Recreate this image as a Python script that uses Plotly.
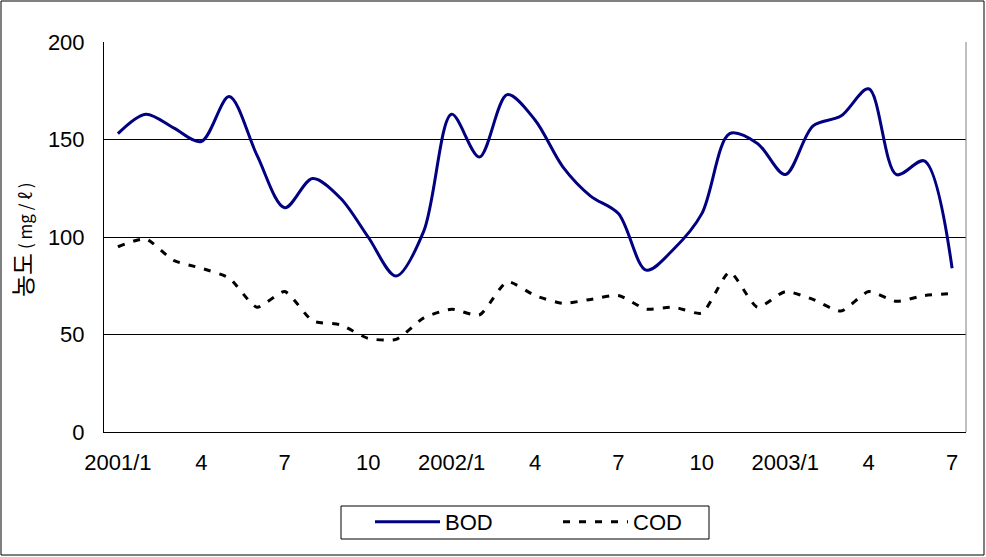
import plotly.graph_objects as go

months = ["2001/1", "2001/2", "2001/3", "2001/4", "2001/5", "2001/6", "2001/7", "2001/8",
          "2001/9", "2001/10", "2001/11", "2001/12",
          "2002/1", "2002/2", "2002/3", "2002/4", "2002/5", "2002/6", "2002/7", "2002/8",
          "2002/9", "2002/10", "2002/11", "2002/12",
          "2003/1", "2003/2", "2003/3", "2003/4", "2003/5", "2003/6", "2003/7"]

bod = [153, 163, 156, 149, 172, 142, 115, 130, 120, 100, 80, 103,
       163, 141, 173, 160, 136, 121, 112, 83, 94, 112, 153, 148,
       132, 157, 162, 176, 132, 139, 84]

cod = [95, 99, 88, 84, 79, 64, 72, 57, 55, 48, 47.5, 58.5,
       63, 60, 77, 70, 66, 68, 70, 63, 64, 61, 82, 64,
       72, 68, 62, 72, 67, 70, 71]

tick_vals = ["2001/1", "2001/4", "2001/7", "2001/10", "2002/1", "2002/4", "2002/7",
             "2002/10", "2003/1", "2003/4", "2003/7"]
tick_text = ["2001/1", "4", "7", "10", "2002/1", "4", "7", "10", "2003/1", "4", "7"]

W, H = 986, 557
L, R, T, B = 104, 20, 42, 125
pw, ph = W - L - R, H - T - B

def px(x):
    return (x - L) / pw

def py(y):
    return (H - B - y) / ph

fig = go.Figure()
fig.add_trace(go.Scatter(x=months, y=bod, name="BOD", mode="lines",
                         line=dict(color="#000080", width=3, shape="spline", smoothing=0.9)))
fig.add_trace(go.Scatter(x=months, y=cod, name="COD", mode="lines",
                         line=dict(color="#000000", width=3, shape="spline", smoothing=0.6,
                                   dash="7px,9px")))

font_main = "Liberation Sans, Arial, sans-serif"

fig.update_layout(
    width=W, height=H,
    margin=dict(l=L, r=R, t=T, b=B, autoexpand=False),
    paper_bgcolor="white", plot_bgcolor="white",
    showlegend=True,
    legend=dict(orientation="h", x=px(370), xanchor="left", y=py(501), yanchor="top",
                borderwidth=0, bgcolor="rgba(0,0,0,0)",
                font=dict(family=font_main, size=22, color="black"),
                itemwidth=65, entrywidth=108, tracegroupgap=0),
    xaxis=dict(type="category", range=[-0.5, 30.5], tickmode="array",
               tickvals=tick_vals, ticktext=tick_text, showgrid=False,
               showline=True, linecolor="black", linewidth=1, ticks="",
               ticklabelstandoff=11,
               tickfont=dict(family=font_main, size=22, color="black")),
    yaxis=dict(range=[0, 200], tickvals=[0, 50, 100, 150, 200], showgrid=True,
               gridcolor="black", gridwidth=1, showline=True, linecolor="black",
               linewidth=1, ticks="", ticklabelstandoff=14, zeroline=False,
               tickfont=dict(family=font_main, size=22, color="black")),
    annotations=[dict(
        text="농도<span style='font-size:17px'> ( mg / ℓ )</span>",
        x=px(21), y=py(240), xref="paper", yref="paper", showarrow=False,
        textangle=-90, xanchor="center", yanchor="middle",
        font=dict(family="Noto Sans CJK KR", size=24, color="black"))],
    shapes=[
        dict(type="rect", xref="paper", yref="paper", x0=px(1), x1=px(984),
             y0=py(555), y1=py(1), line=dict(color="black", width=1)),
        dict(type="line", xref="paper", yref="paper", x0=1, x1=1, y0=0, y1=1,
             line=dict(color="#808080", width=1)),
        dict(type="rect", xref="paper", yref="paper", x0=px(341), x1=px(709),
             y0=py(539), y1=py(506), line=dict(color="black", width=1)),
    ],
)

fig.write_html("out.html")
